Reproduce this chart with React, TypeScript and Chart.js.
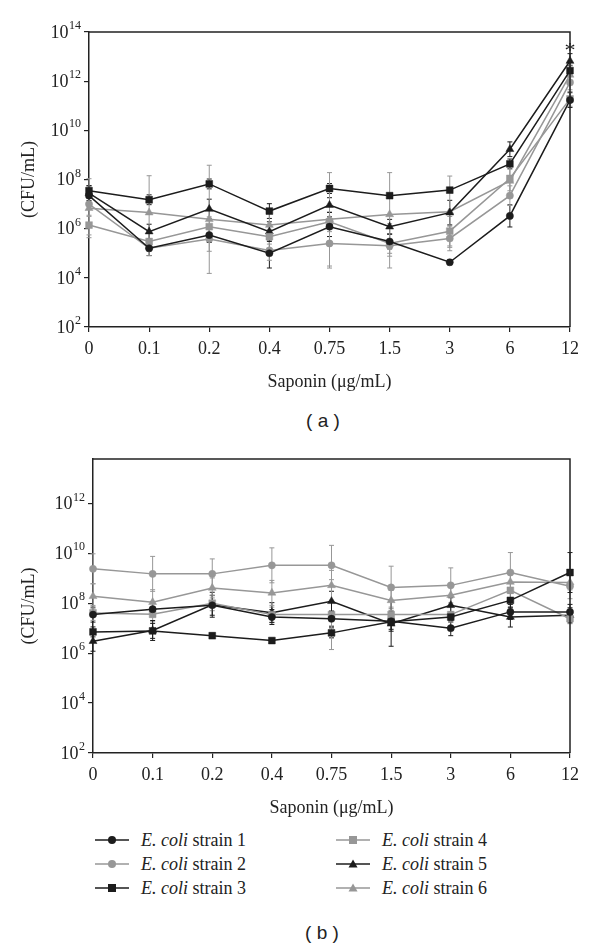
import React, { useEffect, useRef } from "react";
import { Chart, registerables } from "chart.js";
Chart.register(...registerables);

// ---------- data ----------
const concentrations = ["0", "0.1", "0.2", "0.4", "0.75", "1.5", "3", "6", "12"];
const strainNames = ["strain 1", "strain 2", "strain 3", "strain 4", "strain 5", "strain 6"];

// panel (a): CFU/mL
const aStrain1 = [2.2e7, 1.6e5, 5.5e5, 1.0e5, 1.2e6, 3.0e5, 4.3e4, 3.3e6, 1.7e11];
const aStrain2 = [1.0e7, 1.6e5, 3.8e5, 1.3e5, 2.5e5, 2.0e5, 4.0e5, 2.2e7, 8.9e11];
const aStrain3 = [3.5e7, 1.5e7, 6.6e7, 5.2e6, 4.3e7, 2.2e7, 3.7e7, 4.3e8, 2.7e12];
const aStrain4 = [1.4e6, 3.0e5, 1.2e6, 4.7e5, 1.9e6, 2.5e5, 7.9e5, 1.1e8, 1.9e11];
const aStrain5 = [2.8e7, 7.6e5, 6.3e6, 7.6e5, 9.1e6, 1.2e6, 4.5e6, 1.7e9, 6.6e12];
const aStrain6 = [6.8e6, 4.5e6, 2.4e6, 1.4e6, 2.4e6, 3.8e6, 4.9e6, 8.7e7, 1.8e12];
// panel (a): error (log10 decades, +/-)
const aErr1 = [0.3, 0.3, 0.3, 0.6, 0.4, 0.3, 0.1, 0.45, 0.3];
const aErr2 = [0.5, 0.3, 0.5, 0.4, 1.0, 0.9, 0.5, 0.4, 0.3];
const aErr3 = [0.2, 0.2, 0.2, 0.3, 0.2, 0.1, 0.1, 0.2, 0.2];
const aErr4 = [0.4, 0.4, 0.4, 0.3, 0.4, 0.4, 0.6, 0.5, 0.3];
const aErr5 = [0.3, 0.3, 0.4, 0.4, 0.3, 0.3, 0.5, 0.3, 0.3];
const aErr6 = [1.2, 1.5, 2.2, 0.6, 1.9, 1.7, 1.45, 0.6, 0.4];
const aStarValue = 2.4e13;
const aTicks = [1e2, 1e4, 1e6, 1e8, 1e10, 1e12, 1e14];

// panel (b): CFU/mL
const bStrain1 = [3.5e7, 5.8e7, 8.3e7, 2.8e7, 2.4e7, 1.9e7, 1.0e7, 4.5e7, 4.5e7];
const bStrain2 = [2.4e9, 1.5e9, 1.5e9, 3.3e9, 3.3e9, 4.3e8, 5.2e8, 1.7e9, 4.8e8];
const bStrain3 = [7.1e6, 7.8e6, 5.0e6, 3.2e6, 6.5e6, 1.8e7, 2.8e7, 1.3e8, 1.7e9];
const bStrain4 = [4.1e7, 3.6e7, 1.0e8, 3.5e7, 3.5e7, 3.5e7, 3.5e7, 3.3e8, 2.4e7];
const bStrain5 = [3.0e6, 8.1e6, 8.7e7, 4.2e7, 1.2e8, 1.5e7, 8.3e7, 2.8e7, 3.3e7];
const bStrain6 = [1.9e8, 1.1e8, 4.1e8, 2.6e8, 5.2e8, 1.3e8, 2.1e8, 7.1e8, 6.8e8];
const bErr1 = [0.3, 0.3, 0.4, 0.3, 0.3, 0.4, 0.3, 0.3, 0.3];
const bErr2 = [0.6, 0.7, 0.6, 0.7, 0.8, 0.85, 0.7, 0.8, 0.5];
const bErr3 = [0.2, 0.3, 0.1, 0.1, 0.2, 0.3, 0.2, 0.3, 0.8];
const bErr4 = [0.3, 0.3, 0.3, 0.3, 1.4, 0.3, 0.3, 0.3, 0.2];
const bErr5 = [0.4, 0.4, 0.5, 0.4, 0.4, 0.9, 0.3, 0.4, 0.3];
const bErr6 = [0.5, 0.5, 0.4, 0.5, 0.6, 0.4, 0.4, 0.4, 0.3];
const bTicks = [1e2, 1e4, 1e6, 1e8, 1e10, 1e12];
const bMax = 6e13;

// ---------- styles ----------
const BLACK = "#1c1c1c";
const GRAY = "#979797";
const AXIS = "#222222";
const SERIF = "'Liberation Serif', 'Times New Roman', serif";
const seriesColors = [BLACK, GRAY, BLACK, GRAY, BLACK, GRAY];
const seriesShapes = ["circle", "circle", "rect", "rect", "triangle", "triangle"];
const shapeRadius: Record<string, number> = { circle: 3.6, rect: 4.8, triangle: 4.6 };

function errorBarPlugin(errs: number[][]) {
  return {
    id: "errbars",
    beforeDatasetsDraw(chart: any) {
      const { ctx } = chart;
      const y = chart.scales.y;
      chart.data.datasets.forEach((ds: any, i: number) => {
        const meta = chart.getDatasetMeta(i);
        ctx.save();
        ctx.strokeStyle = ds.borderColor;
        ctx.lineWidth = 1;
        meta.data.forEach((pt: any, j: number) => {
          const v = ds.data[j];
          const e = errs[i][j];
          const hi = y.getPixelForValue(v * Math.pow(10, e));
          const lo = y.getPixelForValue(v / Math.pow(10, e));
          ctx.beginPath();
          ctx.moveTo(pt.x, hi);
          ctx.lineTo(pt.x, lo);
          ctx.moveTo(pt.x - 2.5, hi);
          ctx.lineTo(pt.x + 2.5, hi);
          ctx.moveTo(pt.x - 2.5, lo);
          ctx.lineTo(pt.x + 2.5, lo);
          ctx.stroke();
        });
        ctx.restore();
      });
    },
  };
}

// draws "10" with a raised exponent for each y tick, positioned by the y scale
function powerLabelPlugin(ticks: number[]) {
  return {
    id: "powlabels",
    afterDraw(chart: any) {
      const { ctx } = chart;
      const y = chart.scales.y;
      const xr = chart.chartArea.left - 8;
      ctx.save();
      ctx.fillStyle = AXIS;
      ctx.textAlign = "right";
      ctx.textBaseline = "middle";
      ticks.forEach((v) => {
        const py = y.getPixelForValue(v);
        const exp = String(Math.round(Math.log10(v)));
        ctx.font = `12px ${SERIF}`;
        const ew = ctx.measureText(exp).width;
        ctx.fillText(exp, xr, py - 6);
        ctx.font = `18px ${SERIF}`;
        ctx.fillText("10", xr - ew - 0.5, py + 1);
      });
      ctx.restore();
    },
  };
}

const boxPlugin = {
  id: "box",
  afterDraw(chart: any) {
    const { ctx, chartArea } = chart;
    ctx.save();
    ctx.strokeStyle = AXIS;
    ctx.lineWidth = 1.5;
    ctx.beginPath();
    ctx.moveTo(chartArea.left, chartArea.top);
    ctx.lineTo(chartArea.right, chartArea.top);
    ctx.lineTo(chartArea.right, chartArea.bottom);
    ctx.stroke();
    ctx.restore();
  },
};

function starPlugin(index: number, value: number) {
  return {
    id: "star",
    afterDraw(chart: any) {
      const { ctx } = chart;
      const x = chart.scales.x.getPixelForValue(index);
      const y = chart.scales.y.getPixelForValue(value);
      ctx.save();
      ctx.fillStyle = AXIS;
      ctx.font = `22px ${SERIF}`;
      ctx.textAlign = "center";
      ctx.textBaseline = "middle";
      ctx.fillText("*", x, y + 4);
      ctx.restore();
    },
  };
}

function buildConfig(
  series: number[][],
  errs: number[][],
  yMax: number,
  yTicks: number[],
  yWidth: number,
  padTop: number,
  extraPlugins: any[]
) {
  const datasets = series.map((d, i) => ({
    label: "E. coli " + strainNames[i],
    data: d,
    borderColor: seriesColors[i],
    backgroundColor: seriesColors[i],
    pointStyle: seriesShapes[i],
    pointRadius: shapeRadius[seriesShapes[i]],
    pointBorderWidth: 0.5,
    borderWidth: 1.5,
    tension: 0,
    fill: false,
  }));
  const tickFont = { family: SERIF, size: 18 };
  return {
    type: "line",
    data: { labels: concentrations, datasets },
    options: {
      responsive: false,
      animation: false,
      devicePixelRatio: 1,
      layout: { padding: { left: 18, right: 30, top: padTop, bottom: 0 } },
      plugins: { legend: { display: false }, tooltip: { enabled: false } },
      scales: {
        x: {
          type: "category",
          offset: false,
          grid: { display: true, drawOnChartArea: false, drawTicks: true, tickLength: 5, color: AXIS, lineWidth: 1.2 },
          border: { color: AXIS, width: 1.5 },
          ticks: { color: AXIS, font: tickFont, padding: 6, maxRotation: 0, autoSkip: false },
          title: { display: true, text: "Saponin (μg/mL)", color: AXIS, font: tickFont, padding: { top: 2, bottom: 0 } },
          afterFit: (s: any) => { s.height = 66; },
        },
        y: {
          type: "logarithmic",
          min: 100,
          max: yMax,
          afterBuildTicks: (s: any) => { s.ticks = yTicks.map((v) => ({ value: v })); },
          grid: { display: true, drawOnChartArea: false, drawTicks: true, tickLength: 5, color: AXIS, lineWidth: 1.2 },
          border: { color: AXIS, width: 1.5 },
          ticks: { display: false },
          title: { display: true, text: "(CFU/mL)", color: AXIS, font: tickFont, padding: 0 },
          afterFit: (s: any) => { s.width = yWidth; },
        },
      },
    },
    plugins: [errorBarPlugin(errs), boxPlugin, powerLabelPlugin(yTicks), ...extraPlugins],
  };
}

function ChartCanvas({ makeConfig, width, height, top }: any) {
  const ref = useRef<HTMLCanvasElement>(null);
  useEffect(() => {
    if (!ref.current) return;
    const chart = new Chart(ref.current, makeConfig());
    return () => chart.destroy();
  }, []);
  return (
    <canvas
      ref={ref}
      width={width}
      height={height}
      style={{ position: "absolute", left: 0, top, width, height }}
    />
  );
}

function LegendSymbol({ color, shape }: { color: string; shape: string }) {
  return (
    <svg width={34} height={14} style={{ display: "block" }}>
      <line x1={0} y1={7} x2={34} y2={7} stroke={color} strokeWidth={1.5} />
      {shape === "circle" && <circle cx={17} cy={7} r={4} fill={color} />}
      {shape === "rect" && <rect x={13} y={3} width={8} height={8} fill={color} />}
      {shape === "triangle" && <polygon points="17,2.5 21.5,10.5 12.5,10.5" fill={color} />}
    </svg>
  );
}

const legendPositions = [
  { left: 95, cy: 840 },
  { left: 95, cy: 864 },
  { left: 95, cy: 888 },
  { left: 336, cy: 840 },
  { left: 336, cy: 864 },
  { left: 336, cy: 888 },
];

export default function App() {
  const makeA = () =>
    buildConfig(
      [aStrain1, aStrain2, aStrain3, aStrain4, aStrain5, aStrain6],
      [aErr1, aErr2, aErr3, aErr4, aErr5, aErr6],
      1e14,
      aTicks,
      71,
      32,
      [starPlugin(8, aStarValue)]
    );
  const makeB = () =>
    buildConfig(
      [bStrain1, bStrain2, bStrain3, bStrain4, bStrain5, bStrain6],
      [bErr1, bErr2, bErr3, bErr4, bErr5, bErr6],
      bMax,
      bTicks,
      75,
      19,
      []
    );
  return (
    <div style={{ position: "absolute", left: 0, top: 0, width: 600, height: 949, background: "#fff", fontFamily: SERIF }}>
      <ChartCanvas makeConfig={makeA} width={600} height={393} top={0} />
      <div style={{ position: "absolute", top: 409, left: 0, width: 646, textAlign: "center", fontFamily: "'Liberation Sans', Arial, sans-serif", fontSize: 19, color: "#222", lineHeight: "24px" }}>
        ( a )
      </div>
      <ChartCanvas makeConfig={makeB} width={600} height={379} top={440} />
      {legendPositions.map((p, i) => (
        <div key={i} style={{ position: "absolute", left: p.left, top: p.cy - 12, height: 24, display: "flex", alignItems: "center", fontSize: 18, color: "#222", whiteSpace: "nowrap" }}>
          <LegendSymbol color={seriesColors[i]} shape={seriesShapes[i]} />
          <span style={{ marginLeft: 12 }}>
            <i>E. coli</i> {strainNames[i]}
          </span>
        </div>
      ))}
      <div style={{ position: "absolute", top: 921, left: 0, width: 644, textAlign: "center", fontFamily: "'Liberation Sans', Arial, sans-serif", fontSize: 19, color: "#222", lineHeight: "24px" }}>
        ( b )
      </div>
    </div>
  );
}
